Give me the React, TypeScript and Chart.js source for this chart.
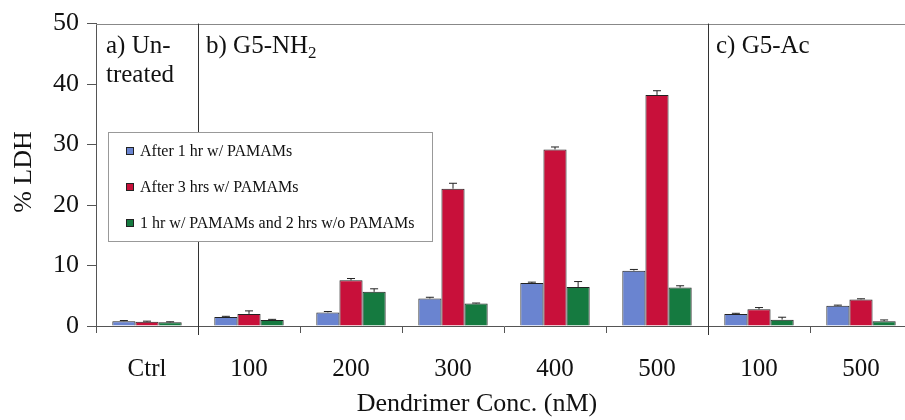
import React, { useEffect, useRef } from "react";
import { Chart, registerables } from "chart.js";

Chart.register(...registerables);

const categories = ["Ctrl", "100", "200", "300", "400", "500", "100", "500"];
const seriesLabels = [
  "After 1 hr w/ PAMAMs",
  "After 3 hrs w/ PAMAMs",
  "1 hr w/ PAMAMs and 2 hrs w/o PAMAMs",
];
const after1hr = [0.8, 1.5, 2.25, 4.55, 7.1, 9.15, 2.0, 3.35];
const after1hrErr = [0.1, 0.1, 0.15, 0.2, 0.15, 0.2, 0.1, 0.1];
const after3hr = [0.7, 2.0, 7.55, 22.7, 29.2, 38.2, 2.75, 4.4];
const after3hrErr = [0.1, 0.5, 0.3, 0.9, 0.4, 0.7, 0.3, 0.1];
const recovery = [0.6, 1.0, 5.65, 3.7, 6.45, 6.35, 1.05, 0.8];
const recoveryErr = [0.1, 0.1, 0.5, 0.1, 0.9, 0.3, 0.4, 0.2];
const yTicks = [0, 10, 20, 30, 40, 50];
const sectionDividers = [0.5, 5.5];
const colors = ["#6a84d0", "#c8103a", "#157a40"];

const FONT = "'Liberation Serif', 'Times New Roman', serif";

const errorBars = {
  id: "errorBars",
  afterDatasetsDraw(chart: any) {
    const ctx = chart.ctx;
    const y = chart.scales.y;
    chart.data.datasets.forEach((ds: any, di: number) => {
      const meta = chart.getDatasetMeta(di);
      meta.data.forEach((bar: any, i: number) => {
        const v = ds.data[i];
        const e = ds.errors[i];
        const y0 = y.getPixelForValue(v);
        const y1 = y.getPixelForValue(v + e);
        ctx.save();
        ctx.strokeStyle = "#222";
        ctx.lineWidth = 1;
        ctx.beginPath();
        ctx.moveTo(bar.x, y0);
        ctx.lineTo(bar.x, y1);
        ctx.moveTo(bar.x - 4, y1);
        ctx.lineTo(bar.x + 4, y1);
        ctx.stroke();
        ctx.restore();
      });
    });
  },
};

const decorations = {
  id: "decorations",
  afterDraw(chart: any) {
    const ctx = chart.ctx;
    const area = chart.chartArea;
    const x = chart.scales.x;
    ctx.save();
    // top border
    ctx.strokeStyle = "#888";
    ctx.lineWidth = 1;
    ctx.beginPath();
    ctx.moveTo(area.left, Math.round(area.top) + 0.5);
    ctx.lineTo(area.right, Math.round(area.top) + 0.5);
    ctx.stroke();

    // section dividers
    ctx.strokeStyle = "#333";
    sectionDividers.forEach((d) => {
      const px = Math.round(x.getPixelForValue(d)) + 0.5;
      ctx.beginPath();
      ctx.moveTo(px, area.top);
      ctx.lineTo(px, area.bottom + 9);
      ctx.stroke();
    });

    // legend box
    const lx = 108, ly = 132, lw = 324, lh = 109;
    ctx.fillStyle = "#fff";
    ctx.fillRect(lx, ly, lw, lh);
    ctx.strokeStyle = "#999";
    ctx.strokeRect(lx + 0.5, ly + 0.5, lw, lh);
    const rows = [151, 187, 223];
    ctx.font = `16px ${FONT}`;
    ctx.textBaseline = "middle";
    ctx.textAlign = "left";
    chart.data.datasets.forEach((ds: any, i: number) => {
      ctx.fillStyle = ds.backgroundColor;
      ctx.fillRect(126, rows[i] - 4, 8, 8);
      ctx.strokeStyle = "#222";
      ctx.strokeRect(126.5, rows[i] - 3.5, 7, 7);
      ctx.fillStyle = "#111";
      ctx.fillText(ds.label, 140, rows[i] + 1);
    });

    // section labels
    ctx.font = `25px ${FONT}`;
    ctx.fillStyle = "#111";
    ctx.textBaseline = "alphabetic";
    ctx.fillText("a) Un-", 106, 53);
    ctx.fillText("treated", 106, 82);
    ctx.fillText("b) G5-NH", 206, 53);
    const w = ctx.measureText("b) G5-NH").width;
    ctx.font = `17px ${FONT}`;
    ctx.fillText("2", 206 + w, 58);
    ctx.font = `25px ${FONT}`;
    ctx.fillText("c) G5-Ac", 716, 53);

    // axis titles
    ctx.font = `26px ${FONT}`;
    ctx.textAlign = "center";
    ctx.textBaseline = "middle";
    ctx.fillText("Dendrimer Conc. (nM)", 477, 404);
    ctx.translate(24, 172);
    ctx.rotate(-Math.PI / 2);
    ctx.fillText("% LDH", 0, 0);
    ctx.restore();
  },
};

export default function App() {
  const ref = useRef<HTMLCanvasElement>(null);
  useEffect(() => {
    if (!ref.current) return;
    const mk = (i: number, data: number[], errors: number[]) => ({
      label: seriesLabels[i],
      data,
      errors,
      backgroundColor: colors[i],
      borderColor: "#222",
      borderWidth: 1,
      categoryPercentage: 0.68,
      barPercentage: 1.0,
    });
    const chart = new Chart(ref.current, {
      type: "bar",
      data: {
        labels: categories,
        datasets: [
          mk(0, after1hr, after1hrErr),
          mk(1, after3hr, after3hrErr),
          mk(2, recovery, recoveryErr),
        ] as any,
      },
      options: {
        animation: false,
        responsive: false,
        maintainAspectRatio: false,
        layout: { padding: { top: 22, left: 0, right: 0, bottom: 0 } },
        plugins: {
          legend: { display: false },
          tooltip: { enabled: false },
        },
        scales: {
          x: {
            grid: {
              drawOnChartArea: false,
              offset: true,
              tickLength: 7,
              color: "#555",
            },
            border: { color: "#555", width: 1 },
            ticks: {
              font: { family: FONT, size: 25 },
              color: "#111",
              padding: 21,
              maxRotation: 0,
            },
            afterFit: (s: any) => {
              s.height = 94;
            },
          },
          y: {
            min: 0,
            max: 50,
            afterBuildTicks: (s: any) => {
              s.ticks = yTicks.map((v) => ({ value: v }));
            },
            grid: { drawOnChartArea: false, tickLength: 9, color: "#555" },
            border: { color: "#555", width: 1 },
            ticks: {
              font: { family: FONT, size: 26 },
              color: "#111",
              padding: 8,
            },
            afterFit: (s: any) => {
              s.width = 96;
            },
          },
        },
      },
      plugins: [errorBars, decorations],
    });
    return () => chart.destroy();
  }, []);
  return (
    <div
      style={{
        position: "fixed",
        left: 0,
        top: 0,
        width: 905,
        height: 420,
        overflow: "hidden",
        background: "#fff",
      }}
    >
      <canvas ref={ref} width={912} height={420} style={{ display: "block" }} />
    </div>
  );
}
